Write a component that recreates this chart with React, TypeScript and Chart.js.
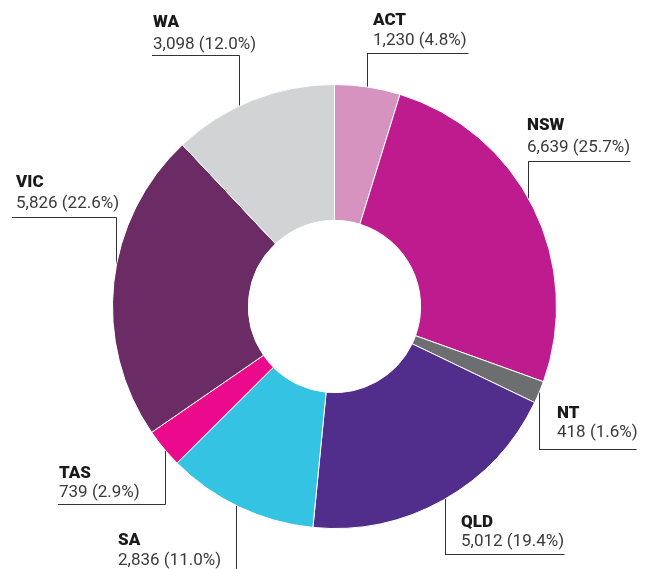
import React, { useEffect, useRef } from "react";
import { Chart, registerables } from "chart.js";

Chart.register(...registerables);

const categories = ["ACT", "NSW", "NT", "QLD", "SA", "TAS", "VIC", "WA"];
const values = [1230, 6639, 418, 5012, 2836, 739, 5826, 3098];
const colors = ["#d793c0", "#be1b8e", "#6d6e70", "#522e8c", "#34c3e3", "#ec0a8c", "#6b2c66", "#d1d3d4"];

// label layout: text x, name baseline, value baseline, horizontal rule y, rule x1, rule x2, vertical x
const labelLayout = [
  { tx: 373, ny: 25, vy: 45, hy: 53, x1: 367, x2: 468, vx: 367 },
  { tx: 527, ny: 130, vy: 152, hy: 161, x1: 528, x2: 630, vx: 528 },
  { tx: 557, ny: 418, vy: 437, hy: 449, x1: 539, x2: 636, vx: 539 },
  { tx: 461, ny: 527, vy: 546, hy: 554, x1: 445, x2: 564, vx: 445 },
  { tx: 118, ny: 545, vy: 565, hy: 575, x1: 236, x2: 236, vx: 236 },
  { tx: 59, ny: 478, vy: 497, hy: 504, x1: 58, x2: 165, vx: 165 },
  { tx: 16, ny: 187, vy: 208, hy: 217, x1: 12, x2: 116, vx: 116 },
  { tx: 153, ny: 27, vy: 49, hy: 55, x1: 152, x2: 239, vx: 239 },
];

const total = values.reduce((a, b) => a + b, 0);
const fmt = (v: number) => v.toLocaleString("en-US");

const leaderPlugin = {
  id: "leaders",
  beforeDatasetsDraw(chart: any) {
    const ctx = chart.ctx;
    const arc = chart.getDatasetMeta(0).data[0];
    if (!arc) return;
    const cx = arc.x, cy = arc.y, R = arc.outerRadius - 12;
    ctx.save();
    ctx.strokeStyle = "#333";
    ctx.lineWidth = 1;
    labelLayout.forEach((l) => {
      const dx = l.vx - cx;
      const dy = Math.sqrt(Math.max(R * R - dx * dx, 0));
      const yEnd = l.hy < cy ? cy - dy : cy + dy;
      ctx.beginPath();
      ctx.moveTo(l.x1, Math.round(l.hy) + 0.5);
      ctx.lineTo(l.x2 + 0.5, Math.round(l.hy) + 0.5);
      ctx.moveTo(Math.round(l.vx) + 0.5, Math.round(l.hy) + 0.5);
      ctx.lineTo(Math.round(l.vx) + 0.5, yEnd);
      ctx.stroke();
    });
    ctx.restore();
  },
  afterDraw(chart: any) {
    const ctx = chart.ctx;
    ctx.save();
    ctx.textAlign = "left";
    ctx.textBaseline = "alphabetic";
    labelLayout.forEach((l, i) => {
      ctx.fillStyle = "#1a1a1a";
      ctx.font = "900 17px Roboto";
      ctx.fillText(categories[i], l.tx, l.ny);
      ctx.fillStyle = "#3a3a3a";
      ctx.font = "400 17px Roboto";
      const pct = ((values[i] / total) * 100).toFixed(1);
      ctx.fillText(`${fmt(values[i])} (${pct}%)`, l.tx, l.vy);
    });
    ctx.restore();
  },
};

export default function App() {
  const ref = useRef<HTMLCanvasElement>(null);
  useEffect(() => {
    if (!ref.current) return;
    const chart = new Chart(ref.current, {
      type: "doughnut",
      data: {
        labels: categories,
        datasets: [
          {
            data: values,
            backgroundColor: colors,
            borderColor: "#ffffff",
            borderWidth: 1,
          },
        ],
      },
      options: {
        responsive: false,
        animation: false,
        cutout: "38.8%",
        layout: { padding: { left: 112, right: 91, top: 83, bottom: 39 } },
        plugins: { legend: { display: false }, tooltip: { enabled: false } },
      },
      plugins: [leaderPlugin],
    });
    return () => chart.destroy();
  }, []);
  return (
    <div style={{ position: "fixed", left: 0, top: 0, width: 648, height: 569, background: "#fff" }}>
      <canvas ref={ref} width={648} height={569} style={{ width: 648, height: 569 }} />
    </div>
  );
}
